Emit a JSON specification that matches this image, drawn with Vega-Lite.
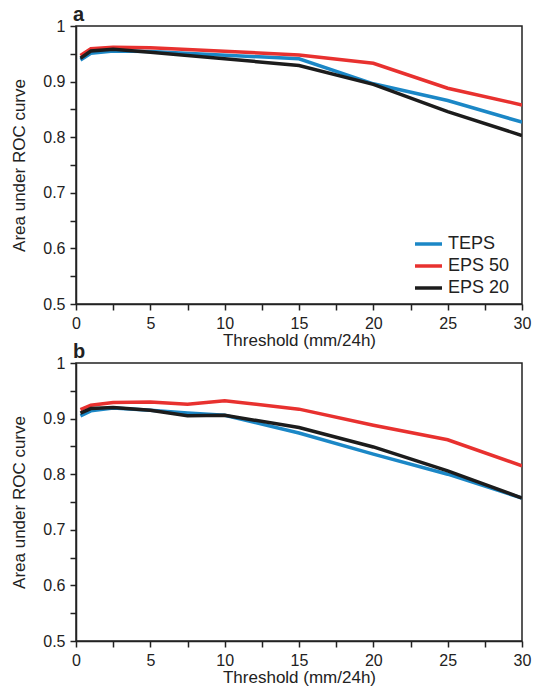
{
  "$schema": "https://vega.github.io/schema/vega-lite/v6.json",
  "background": "white",
  "padding": {"left": 10, "top": 4, "right": 10, "bottom": 2},
  "bounds": "flush",
  "spacing": 59,
  "config": {
    "font": "Liberation Sans",
    "view": {"stroke": "#222", "strokeWidth": 1.5},
    "axis": {
      "domainColor": "#222", "domainWidth": 1.5, "tickColor": "#222", "tickWidth": 1.5,
      "tickSize": 6, "labelFontSize": 16, "labelColor": "#222", "titleFontSize": 17,
      "titleFontWeight": "normal", "titleColor": "#222", "grid": false, "labelPadding": 5
    },
    "title": {"fontSize": 20, "fontWeight": "bold", "anchor": "start", "frame": "group", "offset": -7, "dx": -3, "color": "#222"}
  },
  "datasets": {
    "auc": [
      {"panel": "a", "model": "TEPS", "threshold": 0.3, "auc": 0.939},
      {"panel": "a", "model": "TEPS", "threshold": 1, "auc": 0.951},
      {"panel": "a", "model": "TEPS", "threshold": 2.5, "auc": 0.955},
      {"panel": "a", "model": "TEPS", "threshold": 5, "auc": 0.954},
      {"panel": "a", "model": "TEPS", "threshold": 15, "auc": 0.941},
      {"panel": "a", "model": "TEPS", "threshold": 20, "auc": 0.896},
      {"panel": "a", "model": "TEPS", "threshold": 25, "auc": 0.866},
      {"panel": "a", "model": "TEPS", "threshold": 30, "auc": 0.827},
      {"panel": "a", "model": "EPS 50", "threshold": 0.3, "auc": 0.947},
      {"panel": "a", "model": "EPS 50", "threshold": 1, "auc": 0.959},
      {"panel": "a", "model": "EPS 50", "threshold": 2.5, "auc": 0.962},
      {"panel": "a", "model": "EPS 50", "threshold": 5, "auc": 0.961},
      {"panel": "a", "model": "EPS 50", "threshold": 15, "auc": 0.948},
      {"panel": "a", "model": "EPS 50", "threshold": 20, "auc": 0.933},
      {"panel": "a", "model": "EPS 50", "threshold": 25, "auc": 0.888},
      {"panel": "a", "model": "EPS 50", "threshold": 30, "auc": 0.858},
      {"panel": "a", "model": "EPS 20", "threshold": 0.3, "auc": 0.942},
      {"panel": "a", "model": "EPS 20", "threshold": 1, "auc": 0.955},
      {"panel": "a", "model": "EPS 20", "threshold": 2.5, "auc": 0.958},
      {"panel": "a", "model": "EPS 20", "threshold": 5, "auc": 0.953},
      {"panel": "a", "model": "EPS 20", "threshold": 15, "auc": 0.929},
      {"panel": "a", "model": "EPS 20", "threshold": 20, "auc": 0.895},
      {"panel": "a", "model": "EPS 20", "threshold": 25, "auc": 0.846},
      {"panel": "a", "model": "EPS 20", "threshold": 30, "auc": 0.803},
      {"panel": "b", "model": "TEPS", "threshold": 0.3, "auc": 0.905},
      {"panel": "b", "model": "TEPS", "threshold": 1, "auc": 0.914},
      {"panel": "b", "model": "TEPS", "threshold": 2.5, "auc": 0.919},
      {"panel": "b", "model": "TEPS", "threshold": 5, "auc": 0.915},
      {"panel": "b", "model": "TEPS", "threshold": 7.5, "auc": 0.910},
      {"panel": "b", "model": "TEPS", "threshold": 10, "auc": 0.906},
      {"panel": "b", "model": "TEPS", "threshold": 15, "auc": 0.874},
      {"panel": "b", "model": "TEPS", "threshold": 20, "auc": 0.836},
      {"panel": "b", "model": "TEPS", "threshold": 25, "auc": 0.800},
      {"panel": "b", "model": "TEPS", "threshold": 30, "auc": 0.757},
      {"panel": "b", "model": "EPS 50", "threshold": 0.3, "auc": 0.916},
      {"panel": "b", "model": "EPS 50", "threshold": 1, "auc": 0.924},
      {"panel": "b", "model": "EPS 50", "threshold": 2.5, "auc": 0.929},
      {"panel": "b", "model": "EPS 50", "threshold": 5, "auc": 0.930},
      {"panel": "b", "model": "EPS 50", "threshold": 7.5, "auc": 0.926},
      {"panel": "b", "model": "EPS 50", "threshold": 10, "auc": 0.932},
      {"panel": "b", "model": "EPS 50", "threshold": 15, "auc": 0.917},
      {"panel": "b", "model": "EPS 50", "threshold": 20, "auc": 0.888},
      {"panel": "b", "model": "EPS 50", "threshold": 25, "auc": 0.862},
      {"panel": "b", "model": "EPS 50", "threshold": 30, "auc": 0.815},
      {"panel": "b", "model": "EPS 20", "threshold": 0.3, "auc": 0.910},
      {"panel": "b", "model": "EPS 20", "threshold": 1, "auc": 0.918},
      {"panel": "b", "model": "EPS 20", "threshold": 2.5, "auc": 0.920},
      {"panel": "b", "model": "EPS 20", "threshold": 5, "auc": 0.915},
      {"panel": "b", "model": "EPS 20", "threshold": 7.5, "auc": 0.905},
      {"panel": "b", "model": "EPS 20", "threshold": 10, "auc": 0.906},
      {"panel": "b", "model": "EPS 20", "threshold": 15, "auc": 0.884},
      {"panel": "b", "model": "EPS 20", "threshold": 20, "auc": 0.849},
      {"panel": "b", "model": "EPS 20", "threshold": 25, "auc": 0.806},
      {"panel": "b", "model": "EPS 20", "threshold": 30, "auc": 0.757}
    ]
  },
  "resolve": {"legend": {"color": "independent"}},
  "vconcat": [
    {
      "title": "a",
      "width": 446, "height": 278,
      "data": {"name": "auc"},
      "transform": [{"filter": "datum.panel === 'a'"}],
      "mark": {"type": "line", "strokeWidth": 3.5, "clip": true},
      "encoding": {
        "x": {"field": "threshold", "type": "quantitative", "title": "Threshold (mm/24h)",
          "scale": {"domain": [0, 30], "nice": false},
          "axis": {"values": [0, 2.5, 5, 7.5, 10, 12.5, 15, 17.5, 20, 22.5, 25, 27.5, 30],
            "labelExpr": "datum.value % 5 === 0 ? datum.label : ''", "titlePadding": 1, "labelPadding": 5, "labelFlush": false}},
        "y": {"field": "auc", "type": "quantitative", "title": "Area under ROC curve",
          "scale": {"domain": [0.5, 1], "nice": false, "zero": false},
          "axis": {"values": [0.5, 0.55, 0.6, 0.65, 0.7, 0.75, 0.8, 0.85, 0.9, 0.95, 1],
            "labelExpr": "round(datum.value * 100) % 10 === 0 ? format(datum.value, '~g') : ''", "titlePadding": 14}},
        "color": {"field": "model", "type": "nominal",
          "scale": {"domain": ["TEPS", "EPS 50", "EPS 20"], "range": ["#1b87c6", "#e8312f", "#1c1c1c"]},
          "legend": {"title": null, "orient": "none", "legendX": 337, "legendY": 207, "symbolType": "stroke",
            "symbolStrokeWidth": 3.5, "symbolSize": 729, "labelFontSize": 18, "labelColor": "#222",
            "rowPadding": 0, "clipHeight": 22, "labelOffset": 4}}
      }
    },
    {
      "title": "b",
      "width": 446, "height": 278,
      "data": {"name": "auc"},
      "transform": [{"filter": "datum.panel === 'b'"}],
      "mark": {"type": "line", "strokeWidth": 3.5, "clip": true},
      "encoding": {
        "x": {"field": "threshold", "type": "quantitative", "title": "Threshold (mm/24h)",
          "scale": {"domain": [0, 30], "nice": false},
          "axis": {"values": [0, 2.5, 5, 7.5, 10, 12.5, 15, 17.5, 20, 22.5, 25, 27.5, 30],
            "labelExpr": "datum.value % 5 === 0 ? datum.label : ''", "titlePadding": 1, "labelPadding": 5, "labelFlush": false}},
        "y": {"field": "auc", "type": "quantitative", "title": "Area under ROC curve",
          "scale": {"domain": [0.5, 1], "nice": false, "zero": false},
          "axis": {"values": [0.5, 0.55, 0.6, 0.65, 0.7, 0.75, 0.8, 0.85, 0.9, 0.95, 1],
            "labelExpr": "round(datum.value * 100) % 10 === 0 ? format(datum.value, '~g') : ''", "titlePadding": 14}},
        "color": {"field": "model", "type": "nominal",
          "scale": {"domain": ["TEPS", "EPS 50", "EPS 20"], "range": ["#1b87c6", "#e8312f", "#1c1c1c"]},
          "legend": null}
      }
    }
  ]
}
